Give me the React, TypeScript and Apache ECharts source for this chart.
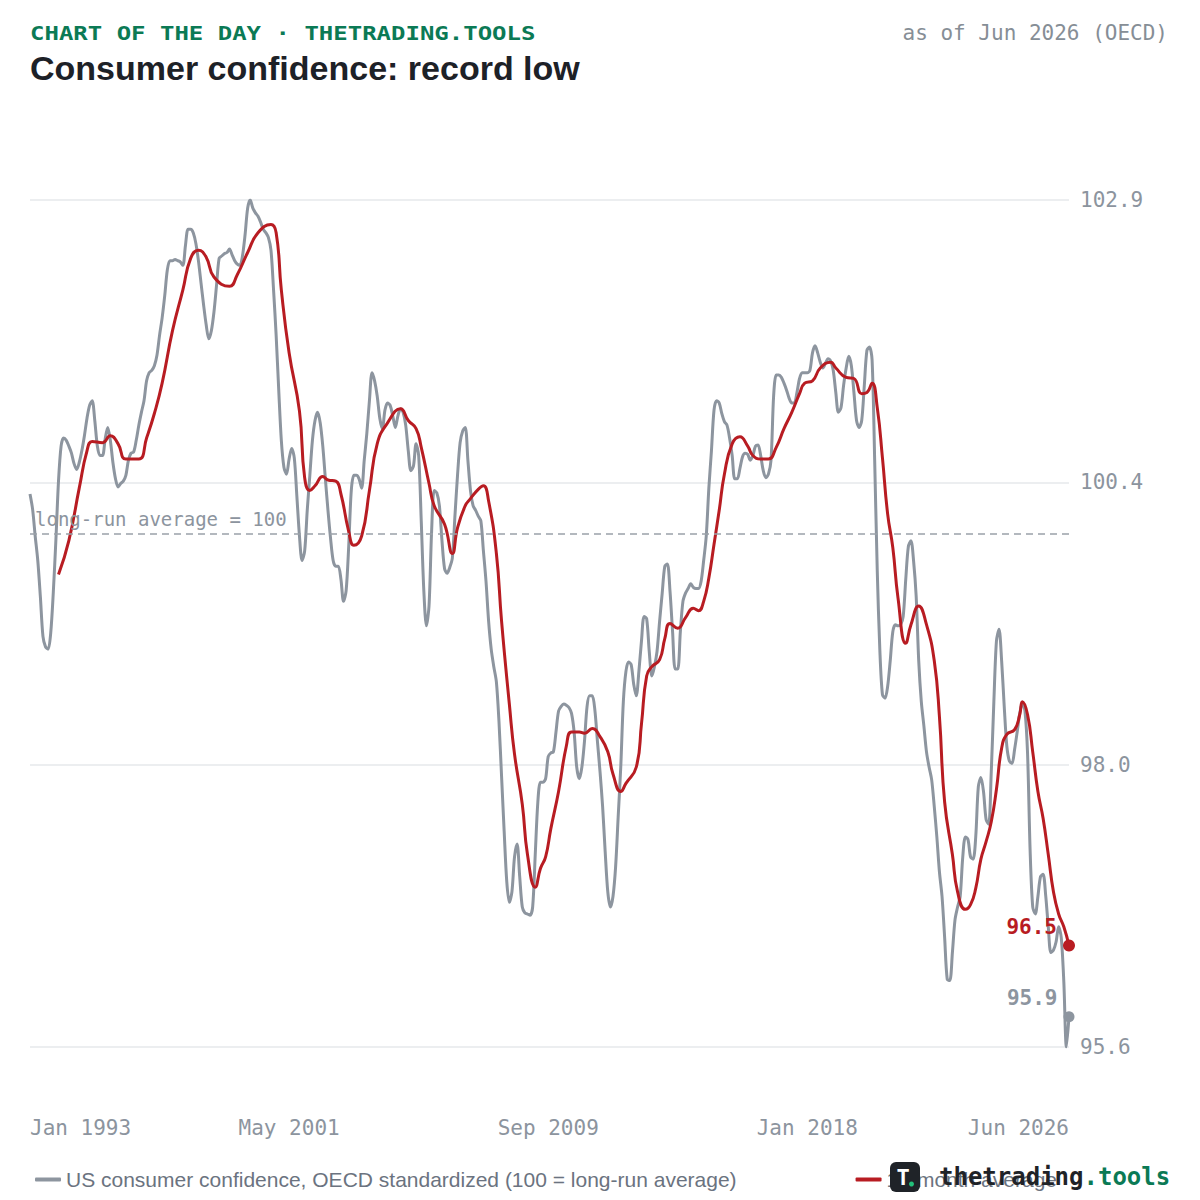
import React, { useEffect, useRef } from "react";
import * as echarts from "echarts";

const MONO = '"DejaVu Sans Mono", monospace';
const SANS = '"Liberation Sans", Arial, sans-serif';
const GRAY = "#8d959f";
const RED = "#b81c22";
const GREEN = "#0b7a55";
const AXIS_TEXT = "#8c949e";
const LEGEND_TEXT = "#6b7380";

const MONTH_NAMES = ["Jan", "Feb", "Mar", "Apr", "May", "Jun", "Jul", "Aug", "Sep", "Oct", "Nov", "Dec"];
const START_YEAR = 1993;
const MONTH_COUNT = 402;
const months: string[] = Array.from({ length: MONTH_COUNT }, (_, i) =>
  `${START_YEAR + Math.floor(i / 12)}-${String((i % 12) + 1).padStart(2, "0")}`
);

// US consumer confidence, OECD standardized, monthly Jan 1993 .. Jun 2026
const confidence: number[] = [
  100.34, 100.21, 99.98, 99.77, 99.46, 99.12, 99.03, 99.01, 99.15, 99.5, 99.95, 100.45,
  100.75, 100.82, 100.8, 100.75, 100.69, 100.6, 100.55, 100.61, 100.71, 100.84, 100.99, 101.1,
  101.14, 100.97, 100.75, 100.67, 100.67, 100.81, 100.91, 100.8, 100.61, 100.47, 100.4, 100.43,
  100.45, 100.5, 100.63, 100.69, 100.7, 100.8, 100.93, 101.04, 101.14, 101.31, 101.38, 101.4,
  101.44, 101.53, 101.7, 101.85, 102.04, 102.26, 102.34, 102.34, 102.35, 102.34, 102.33, 102.3,
  102.47, 102.61, 102.61, 102.58, 102.49, 102.34, 102.15, 101.96, 101.79, 101.67, 101.74, 101.9,
  102.13, 102.36, 102.38, 102.4, 102.41, 102.44, 102.39, 102.34, 102.31, 102.3, 102.38, 102.56,
  102.79, 102.86, 102.79, 102.75, 102.72, 102.67, 102.61, 102.58, 102.54, 102.43, 102.09, 101.7,
  101.23, 100.8, 100.57, 100.51, 100.64, 100.73, 100.65, 100.32, 99.98, 99.77, 99.85, 100.2,
  100.5, 100.8, 100.97, 101.04, 100.95, 100.75, 100.47, 100.2, 99.96, 99.77, 99.72, 99.72,
  99.61, 99.42, 99.51, 99.89, 100.37, 100.5, 100.5, 100.47, 100.39, 100.63, 100.86, 101.14,
  101.38, 101.31, 101.18, 100.99, 100.9, 101.06, 101.12, 101.1, 101.01, 100.91, 101.01, 101.07,
  101.04, 100.93, 100.71, 100.54, 100.58, 100.77, 100.67, 100.11, 99.51, 99.21, 99.38, 100.02,
  100.37, 100.35, 100.24, 99.94, 99.7, 99.66, 99.71, 99.79, 100.15, 100.5, 100.78, 100.88,
  100.91, 100.63, 100.37, 100.24, 100.2, 100.15, 100.11, 99.85, 99.59, 99.25, 99.01, 98.86,
  98.73, 98.39, 97.92, 97.45, 97.02, 96.84, 96.93, 97.23, 97.34, 97.06, 96.8, 96.75,
  96.74, 96.73, 96.8, 97.25, 97.7, 97.87, 97.87, 97.9, 98.09, 98.12, 98.13, 98.3,
  98.48, 98.52, 98.54, 98.53, 98.51, 98.46, 98.3, 98.0, 97.9, 98.0, 98.22, 98.52,
  98.61, 98.61, 98.49, 98.22, 97.96, 97.66, 97.27, 96.93, 96.8, 96.89, 97.14, 97.57,
  98.0, 98.56, 98.82, 98.9, 98.88, 98.71, 98.61, 98.82, 99.08, 99.29, 99.27, 98.99,
  98.78, 98.86, 98.99, 99.25, 99.49, 99.72, 99.74, 99.51, 99.16, 98.84, 98.84, 99.16,
  99.42, 99.49, 99.53, 99.57, 99.54, 99.53, 99.53, 99.59, 99.77, 99.98, 100.39, 100.71,
  101.06, 101.14, 101.12, 101.03, 100.96, 100.93, 100.82, 100.67, 100.47, 100.47, 100.56, 100.66,
  100.69, 100.68, 100.63, 100.67, 100.75, 100.76, 100.67, 100.54, 100.48, 100.51, 100.63, 101.18,
  101.36, 101.36, 101.34, 101.29, 101.23, 101.16, 101.12, 101.12, 101.21, 101.33, 101.38, 101.38,
  101.38, 101.4, 101.55, 101.61, 101.55, 101.47, 101.42, 101.46, 101.5, 101.48, 101.4, 101.21,
  101.04, 101.08, 101.27, 101.42, 101.52, 101.44, 101.21, 100.97, 100.91, 100.97, 101.27, 101.57,
  101.6, 101.49, 100.63, 99.68, 99.0, 98.62, 98.59, 98.69, 98.91, 99.16, 99.22, 99.21,
  99.22, 99.29, 99.61, 99.89, 99.94, 99.77, 99.47, 98.91, 98.56, 98.35, 98.13, 98.0,
  97.89, 97.66, 97.4, 97.1, 96.89, 96.54, 96.18, 96.17, 96.41, 96.69, 96.8, 96.89,
  97.23, 97.4, 97.38, 97.23, 97.21, 97.4, 97.83, 97.91, 97.79, 97.55, 97.51, 97.96,
  98.56, 99.08, 99.18, 98.91, 98.52, 98.18, 98.05, 98.03, 98.15, 98.3, 98.46, 98.55,
  98.48, 98.12, 97.28, 96.8, 96.74, 96.89, 97.06, 97.08, 96.9, 96.63, 96.41, 96.43,
  96.5, 96.63, 96.54, 96.16, 95.6, 95.86,
];

// 12-month average, read at selected months
const average12: [string, number][] = [
  ["1993-12", 99.65], ["1994-04", 99.94], ["1994-08", 100.39], ["1994-11", 100.71],
  ["1995-01", 100.79], ["1995-05", 100.78], ["1995-08", 100.84], ["1995-11", 100.77],
  ["1996-02", 100.64], ["1996-07", 100.64], ["1996-10", 100.82], ["1997-01", 101.03],
  ["1997-04", 101.29], ["1997-08", 101.74], ["1997-12", 102.09], ["1998-03", 102.36],
  ["1998-06", 102.43], ["1998-09", 102.37], ["1998-12", 102.2], ["1999-06", 102.12],
  ["1999-09", 102.22], ["2000-01", 102.41], ["2000-05", 102.58], ["2000-10", 102.65],
  ["2000-12", 102.58], ["2001-02", 102.09], ["2001-05", 101.55], ["2001-09", 101.05],
  ["2001-11", 100.48], ["2002-01", 100.37], ["2002-03", 100.41], ["2002-06", 100.49],
  ["2002-08", 100.46], ["2002-11", 100.45], ["2003-01", 100.34], ["2003-04", 100.02],
  ["2003-06", 99.9], ["2003-09", 99.98], ["2003-12", 100.37], ["2004-03", 100.77],
  ["2004-07", 100.95], ["2004-12", 101.07], ["2005-03", 100.97], ["2005-06", 100.9],
  ["2005-08", 100.74], ["2005-11", 100.43], ["2006-01", 100.24], ["2006-05", 100.08],
  ["2006-08", 99.83], ["2006-10", 100.05], ["2007-01", 100.24], ["2007-03", 100.3],
  ["2007-06", 100.38], ["2007-08", 100.41], ["2007-10", 100.28], ["2008-01", 99.83],
  ["2008-03", 99.25], ["2008-06", 98.54], ["2008-08", 98.11], ["2008-11", 97.68],
  ["2009-01", 97.25], ["2009-04", 96.97], ["2009-06", 97.13], ["2009-08", 97.23],
  ["2009-10", 97.47], ["2010-01", 97.79], ["2010-04", 98.18], ["2010-06", 98.3],
  ["2010-09", 98.3], ["2010-11", 98.29], ["2011-02", 98.33], ["2011-05", 98.26],
  ["2011-08", 98.13], ["2011-10", 97.94], ["2012-01", 97.79], ["2012-03", 97.86],
  ["2012-07", 98.0], ["2012-09", 98.37], ["2012-11", 98.78], ["2013-01", 98.86],
  ["2013-04", 98.92], ["2013-06", 99.1], ["2013-08", 99.23], ["2013-11", 99.19],
  ["2014-02", 99.28], ["2014-05", 99.36], ["2014-07", 99.34], ["2014-09", 99.42],
  ["2014-11", 99.62], ["2015-01", 99.91], ["2015-03", 100.2], ["2015-05", 100.51],
  ["2015-08", 100.77], ["2015-11", 100.83], ["2016-02", 100.75], ["2016-04", 100.67],
  ["2016-07", 100.64], ["2016-10", 100.64], ["2017-01", 100.74], ["2017-04", 100.9],
  ["2017-07", 101.04], ["2017-10", 101.2], ["2017-12", 101.29], ["2018-03", 101.31],
  ["2018-06", 101.42], ["2018-10", 101.47], ["2018-12", 101.42], ["2019-04", 101.34],
  ["2019-07", 101.33], ["2019-10", 101.2], ["2019-12", 101.21], ["2020-02", 101.29],
  ["2020-04", 101.08], ["2020-06", 100.65], ["2020-08", 100.17], ["2020-10", 99.88],
  ["2020-12", 99.45], ["2021-03", 99.06], ["2021-05", 99.22], ["2021-08", 99.38],
  ["2021-11", 99.22], ["2022-02", 98.91], ["2022-04", 98.43], ["2022-06", 97.7],
  ["2022-09", 97.25], ["2022-11", 96.93], ["2023-02", 96.78], ["2023-04", 96.82],
  ["2023-06", 96.96], ["2023-08", 97.21], ["2023-10", 97.36], ["2023-12", 97.53],
  ["2024-02", 97.81], ["2024-04", 98.16], ["2024-06", 98.28], ["2024-09", 98.32],
  ["2024-11", 98.45], ["2024-12", 98.56], ["2025-02", 98.45], ["2025-04", 98.13],
  ["2025-06", 97.79], ["2025-08", 97.56], ["2025-10", 97.25], ["2025-12", 96.93],
  ["2026-02", 96.74], ["2026-04", 96.63], ["2026-06", 96.47],
];

const LONG_RUN_AVERAGE = 100;
const xLabelIndices = [0, 100, 200, 300, 401];
const GRAY_NAME = "US consumer confidence, OECD standardized (100 = long-run average)";
const RED_NAME = "12-month average";

const yMin = Math.min(...confidence);
const yMax = Math.max(...confidence);
const yTicks = [0, 1, 2, 3].map((k) => yMin + ((yMax - yMin) * k) / 3);

function fmtMonth(v: string): string {
  const [y, m] = v.split("-");
  return `${MONTH_NAMES[Number(m) - 1]} ${y}`;
}

const lastMonth = months[months.length - 1];
const lastGray = confidence[confidence.length - 1];
const lastRed = average12[average12.length - 1];

const endLabel = (color: string) => ({
  show: true,
  position: "left",
  distance: 6,
  offset: [0, -19],
  color,
  fontFamily: MONO,
  fontWeight: "bold",
  fontSize: 21,
  formatter: (p: any) => Number(p.value).toFixed(1),
});

const option: any = {
  animation: false,
  backgroundColor: "#ffffff",
  grid: { left: 30, right: 131, top: 200, bottom: 153 },
  xAxis: {
    type: "category",
    data: months,
    boundaryGap: false,
    axisLine: { show: false },
    axisTick: { show: false },
    splitLine: { show: false },
    axisLabel: {
      interval: (i: number) => xLabelIndices.includes(i),
      formatter: (v: string) => fmtMonth(v),
      margin: 70,
      fontSize: 21,
      fontFamily: MONO,
      color: AXIS_TEXT,
      alignMinLabel: "left",
      alignMaxLabel: "right",
    },
  },
  yAxis: {
    type: "value",
    position: "right",
    min: yMin,
    max: yMax,
    axisLine: { show: false },
    axisTick: { show: false, customValues: yTicks },
    axisLabel: {
      customValues: yTicks,
      formatter: (v: number) => v.toFixed(1),
      margin: 11,
      fontSize: 21,
      fontFamily: MONO,
      color: AXIS_TEXT,
    },
    splitLine: { show: true, lineStyle: { color: "#e6e8eb", width: 1.5 } },
  },
  legend: [
    {
      left: 30,
      top: 1164,
      icon: "roundRect",
      itemWidth: 26,
      itemHeight: 4,
      selectedMode: false,
      data: [GRAY_NAME],
      textStyle: { fontSize: 21, fontFamily: SANS, color: LEGEND_TEXT },
    },
    {
      right: 138,
      top: 1164,
      icon: "roundRect",
      itemWidth: 26,
      itemHeight: 4,
      selectedMode: false,
      data: [RED_NAME],
      textStyle: { fontSize: 21, fontFamily: SANS, color: LEGEND_TEXT },
    },
  ],
  series: [
    {
      name: GRAY_NAME,
      type: "line",
      data: confidence,
      showSymbol: false,
      smooth: 0.3,
      lineStyle: { color: GRAY, width: 3 },
      itemStyle: { color: GRAY },
      z: 2,
      markLine: {
        silent: true,
        symbol: "none",
        data: [{ yAxis: LONG_RUN_AVERAGE }],
        lineStyle: { color: "#9aa1a9", width: 1.5, type: [7, 5] },
        label: {
          show: true,
          position: "insideStartTop",
          formatter: `long-run average = ${LONG_RUN_AVERAGE}`,
          fontFamily: MONO,
          fontSize: 19,
          color: AXIS_TEXT,
        },
      },
      markPoint: {
        silent: true,
        symbol: "circle",
        symbolSize: 11,
        itemStyle: { color: GRAY },
        label: endLabel(GRAY),
        data: [{ coord: [lastMonth, lastGray], value: lastGray }],
      },
    },
    {
      name: RED_NAME,
      type: "line",
      data: average12,
      showSymbol: false,
      smooth: 0.5,
      lineStyle: { color: RED, width: 3 },
      itemStyle: { color: RED },
      z: 3,
      markPoint: {
        silent: true,
        symbol: "circle",
        symbolSize: 12,
        itemStyle: { color: RED },
        label: endLabel(RED),
        data: [{ coord: [lastRed[0], lastRed[1]], value: lastRed[1] }],
      },
    },
  ],
  graphic: [
    {
      type: "text",
      x: 30,
      y: 33,
      scaleX: 1.2,
      style: {
        text: "CHART OF THE DAY · THETRADING.TOOLS",
        fill: GREEN,
        font: `bold 20px ${MONO}`,
        align: "left",
        verticalAlign: "middle",
      },
    },
    {
      type: "text",
      x: 30,
      y: 68,
      style: {
        text: "Consumer confidence: record low",
        fill: "#1d2127",
        font: `bold 34px ${SANS}`,
        align: "left",
        verticalAlign: "middle",
      },
    },
    {
      type: "text",
      x: 1168,
      y: 33,
      style: {
        text: "as of Jun 2026 (OECD)",
        fill: "#868e96",
        font: `21px ${MONO}`,
        align: "right",
        verticalAlign: "middle",
      },
    },
    {
      type: "rect",
      z: 100,
      shape: { x: 890, y: 1162, width: 30, height: 30, r: 6 },
      style: { fill: "#1f2328" },
    },
    {
      type: "text",
      z: 101,
      x: 903,
      y: 1177,
      style: {
        text: "T",
        fill: "#ffffff",
        font: `bold 22px ${MONO}`,
        align: "center",
        verticalAlign: "middle",
      },
    },
    {
      type: "circle",
      z: 101,
      shape: { cx: 911.5, cy: 1184, r: 2.5 },
      style: { fill: "#22c07a" },
    },
    {
      type: "text",
      z: 101,
      x: 939,
      y: 1177,
      style: {
        text: "{a|thetrading}{b|.tools}",
        font: `bold 24px ${MONO}`,
        verticalAlign: "middle",
        rich: {
          a: { fill: "#1f2328", fontFamily: MONO, fontWeight: "bold", fontSize: 24 },
          b: { fill: GREEN, fontFamily: MONO, fontWeight: "bold", fontSize: 24 },
        },
      },
    },
  ],
};

export default function App() {
  const ref = useRef<HTMLDivElement>(null);
  useEffect(() => {
    if (!ref.current) return;
    const chart = echarts.init(ref.current, null, { renderer: "svg" });
    chart.setOption(option);
    return () => chart.dispose();
  }, []);
  return (
    <div
      ref={ref}
      style={{ position: "absolute", left: 0, top: 0, width: 1200, height: 1200, background: "#fff" }}
    />
  );
}
